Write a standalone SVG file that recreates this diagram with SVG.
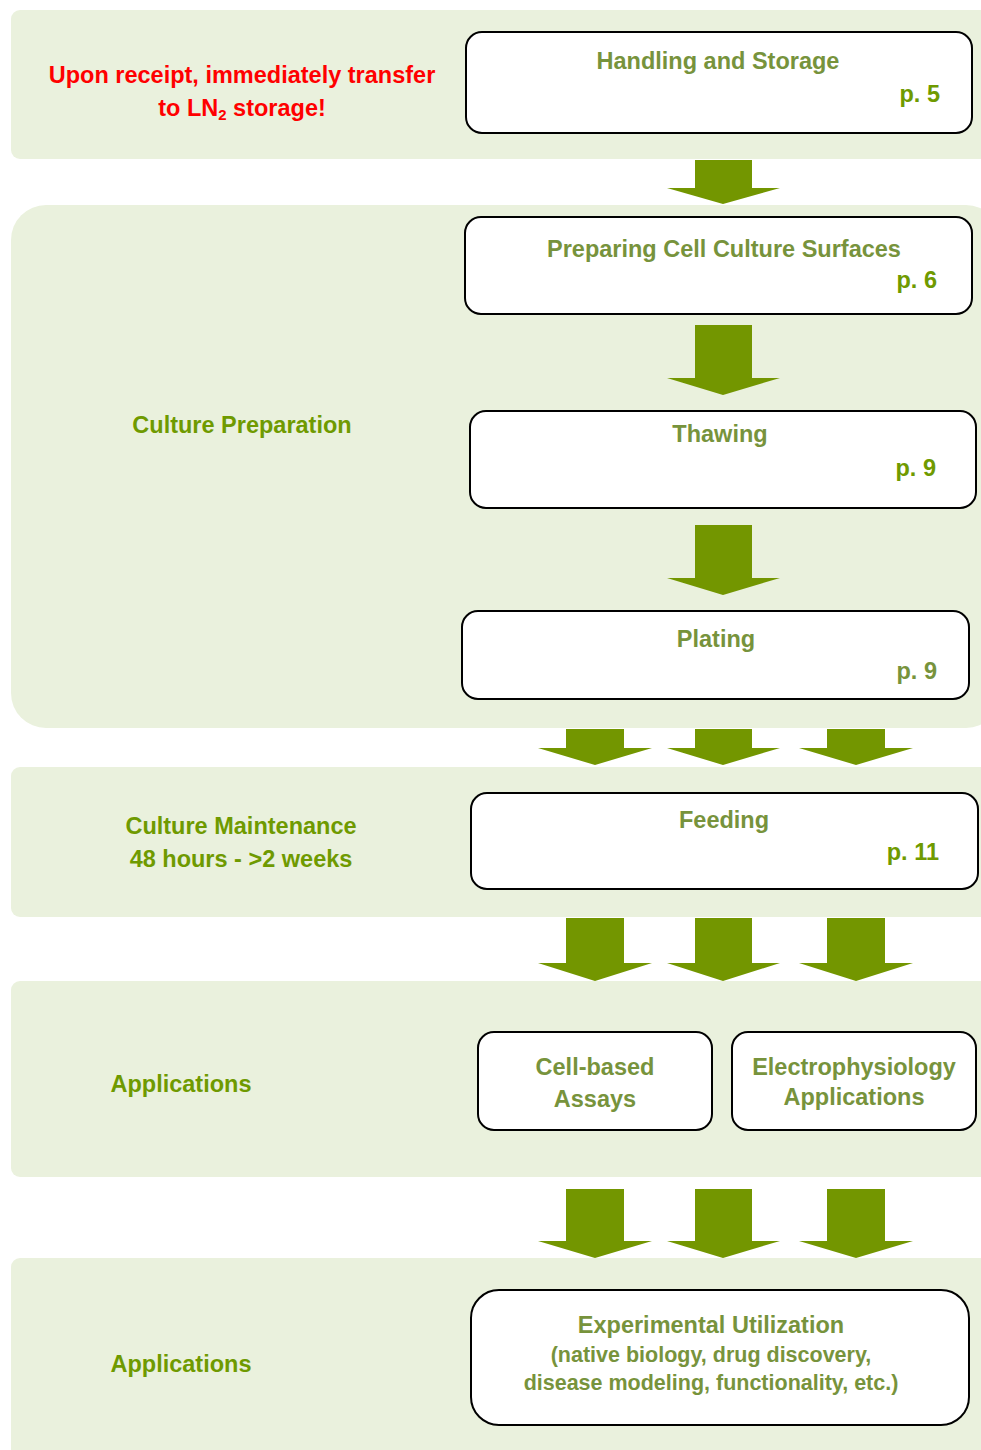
<svg xmlns="http://www.w3.org/2000/svg" width="981" height="1450" viewBox="0 0 981 1450">
<style>
.band{fill:#EAF1DD}
.node{fill:#FFFFFF;stroke:#000000;stroke-width:2}
text{font-family:"Liberation Sans",Arial,sans-serif;font-weight:bold}
.t{fill:#77933C;font-size:23.5px;text-anchor:middle}
.pg{fill:#6F9A00;font-size:23.5px;text-anchor:end}
.pgm{fill:#77933C;font-size:23.5px;text-anchor:end}
.lbl{fill:#6F9A00;font-size:23.5px;text-anchor:middle}
.red{fill:#FF0000;font-size:23.5px;text-anchor:middle}
.s{fill:#77933C;font-size:21.5px;text-anchor:middle}
.arr{fill:#739600}
</style>
<g id="bands">
<rect class="band" x="11" y="10" width="990" height="149" rx="9"/>
<rect class="band" x="11" y="205" width="990" height="523" rx="35"/>
<rect class="band" x="11" y="767" width="990" height="150" rx="9"/>
<rect class="band" x="11" y="981" width="990" height="196" rx="9"/>
<rect class="band" x="11" y="1258" width="990" height="200" rx="9"/>
</g>
<g id="labels">
<text class="red" x="242" y="83">Upon receipt, immediately transfer</text>
<text class="red" x="242" y="116">to LN<tspan font-size="15" dy="4">2</tspan><tspan dy="-4"> storage!</tspan></text>
<text class="lbl" x="242" y="433">Culture Preparation</text>
<text class="lbl" x="241" y="834">Culture Maintenance</text>
<text class="lbl" x="241" y="867">48 hours -  &gt;2 weeks</text>
<text class="lbl" x="181" y="1092">Applications</text>
<text class="lbl" x="181" y="1372">Applications</text>
</g>
<g id="connectors">
<path class="arr" d="M695,160 H752 V188 H780 L723,204 L667,188 H695 Z"/>
<path class="arr" d="M695,325 H752 V378 H780 L723,395 L667,378 H695 Z"/>
<path class="arr" d="M695,525 H752 V578 H780 L723,595 L667,578 H695 Z"/>
<path class="arr" d="M566,729 H624 V748 H652 L595,765 L538,748 H566 Z"/>
<path class="arr" d="M695,729 H752 V748 H780 L723,765 L667,748 H695 Z"/>
<path class="arr" d="M827,729 H885 V748 H913 L856,765 L799,748 H827 Z"/>
<path class="arr" d="M566,918 H624 V963 H652 L595,981 L538,963 H566 Z"/>
<path class="arr" d="M695,918 H752 V963 H780 L723,981 L667,963 H695 Z"/>
<path class="arr" d="M827,918 H885 V963 H913 L856,981 L799,963 H827 Z"/>
<path class="arr" d="M566,1189 H624 V1241 H652 L595,1258 L538,1241 H566 Z"/>
<path class="arr" d="M695,1189 H752 V1241 H780 L723,1258 L667,1241 H695 Z"/>
<path class="arr" d="M827,1189 H885 V1241 H913 L856,1258 L799,1241 H827 Z"/>
</g>
<g id="handling">
<rect class="node" x="466" y="32" width="506" height="101" rx="16"/>
<text class="t" x="718" y="69">Handling and Storage</text>
<text class="pg" x="940" y="102">p. 5</text>
</g>
<g id="preparing">
<rect class="node" x="465" y="217" width="507" height="97" rx="16"/>
<text class="t" x="724" y="257">Preparing Cell Culture Surfaces</text>
<text class="pg" x="937" y="288">p. 6</text>
</g>
<g id="thawing">
<rect class="node" x="470" y="411" width="506" height="97" rx="16"/>
<text class="t" x="720" y="442">Thawing</text>
<text class="pg" x="936" y="476">p. 9</text>
</g>
<g id="plating">
<rect class="node" x="462" y="611" width="507" height="88" rx="16"/>
<text class="t" x="716" y="647">Plating</text>
<text class="pgm" x="937" y="679">p. 9</text>
</g>
<g id="feeding">
<rect class="node" x="471" y="793" width="507" height="96" rx="16"/>
<text class="t" x="724" y="828">Feeding</text>
<text class="pg" x="939" y="860">p. 11</text>
</g>
<g id="cellbased">
<rect class="node" x="478" y="1032" width="234" height="98" rx="16"/>
<text class="t" x="595" y="1075">Cell-based</text>
<text class="t" x="595" y="1107">Assays</text>
</g>
<g id="electro">
<rect class="node" x="732" y="1032" width="244" height="98" rx="16"/>
<text class="t" x="854" y="1075">Electrophysiology</text>
<text class="t" x="854" y="1105">Applications</text>
</g>
<g id="experimental">
<rect class="node" x="471" y="1290" width="498" height="135" rx="28"/>
<text class="t" x="711" y="1333">Experimental Utilization</text>
<text class="s" x="711" y="1362">(native biology, drug discovery,</text>
<text class="s" x="711" y="1390">disease modeling, functionality, etc.)</text>
</g>
</svg>
